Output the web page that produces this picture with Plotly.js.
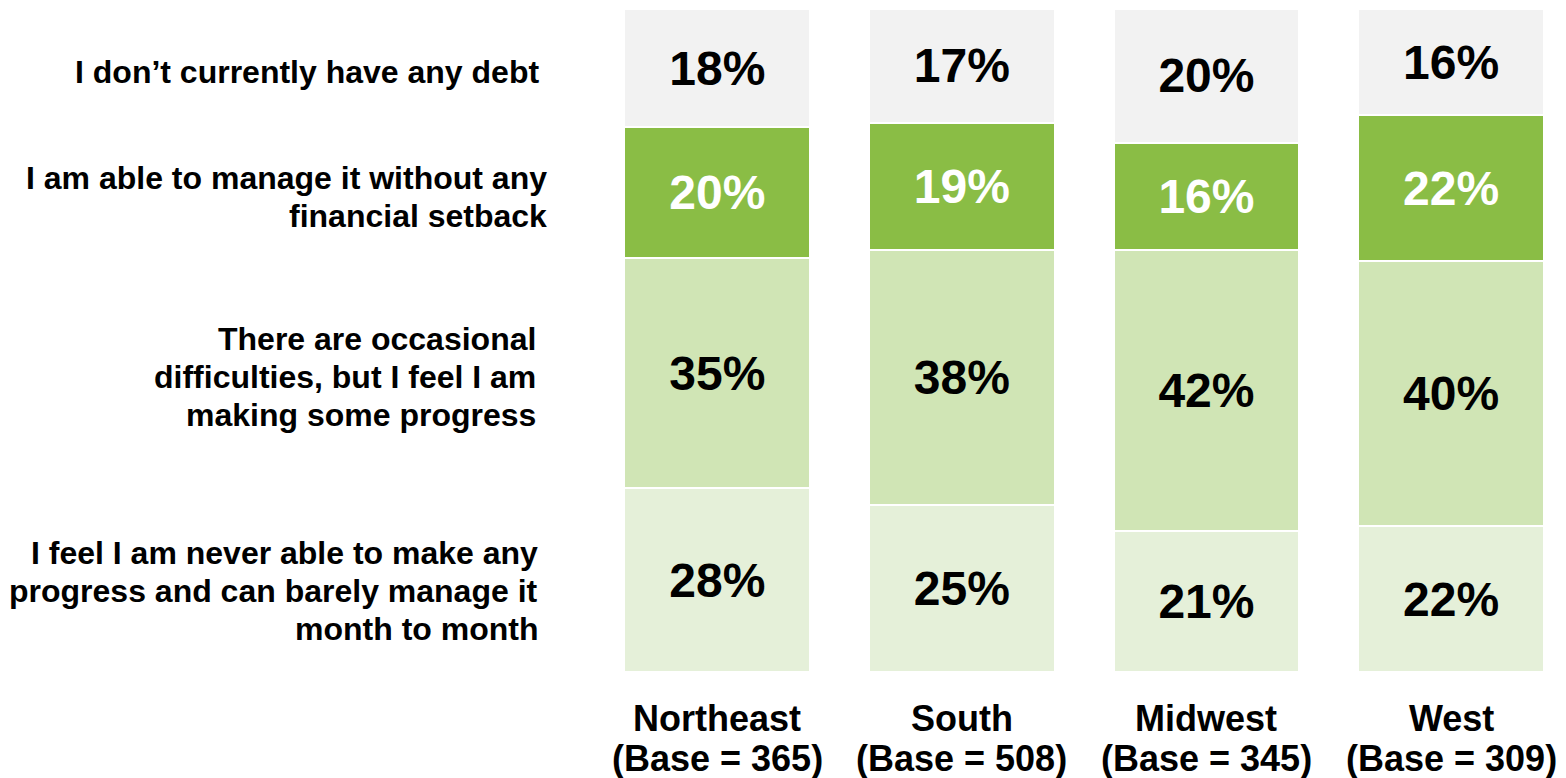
<!DOCTYPE html>
<html>
<head>
<meta charset="utf-8">
<script src="https://cdn.plot.ly/plotly-3.0.1.min.js"></script>
<style>html,body{margin:0;padding:0;background:#fff;}#chart{width:1566px;height:778px;}</style>
</head>
<body>
<div id="chart"></div>
<script>
const regions = ["Northeast", "South", "Midwest", "West"];
const bases = [365, 508, 345, 309];
const seriesLines = [
  ["I feel I am never able to make any", "progress and can barely manage it", "month to month"],
  ["There are occasional", "difficulties, but I feel I am", "making some progress"],
  ["I am able to manage it without any", "financial setback"],
  ["I don’t currently have any debt"]
];
const neverAble = [28, 25, 21, 22];
const occasional = [35, 38, 42, 40];
const manageable = [20, 19, 16, 22];
const noDebt = [18, 17, 20, 16];
const seriesValues = [neverAble, occasional, manageable, noDebt];
const colors = ["#e5f0d9", "#d0e5b5", "#8abd45", "#f2f2f2"];
const textColors = ["#000000", "#000000", "#ffffff", "#000000"];

const FONT = "Liberation Sans, Arial, Helvetica, sans-serif";
// label layout offsets (pixels)
const labelXShift = [-55, -57, -46, -54];
const labelYShift = [-11, -4, -4, -4];

const traces = seriesValues.map((vals, k) => ({
  type: "bar",
  name: seriesLines[k].join(" "),
  x: regions,
  y: vals,
  text: vals.map(v => "<b>" + v + "%</b>"),
  texttemplate: "%{text}",
  textposition: "inside",
  insidetextanchor: "middle",
  constraintext: "none",
  textfont: {family: FONT, size: 48, color: textColors[k]},
  marker: {color: colors[k], line: {color: "#ffffff", width: 2}},
  hoverinfo: "skip"
}));

const annotations = [];
// left labels aligned with Northeast segment midpoints (normalized)
const neTotal = seriesValues.reduce((s, a) => s + a[0], 0);
let cum = 0;
const LS = 38;
seriesValues.forEach((vals, k) => {
  const mid = (cum + vals[0] / 2) / neTotal * 100;
  cum += vals[0];
  const lines = seriesLines[k];
  const n = lines.length;
  lines.forEach((ln, i) => {
    annotations.push({
      xref: "paper", yref: "y", x: 0, y: mid,
      xanchor: "right", yanchor: "middle", align: "right",
      xshift: labelXShift[k], yshift: labelYShift[k] - (i - (n - 1) / 2) * LS,
      showarrow: false,
      text: "<b>" + ln + "</b>",
      font: {family: FONT, size: 32, color: "#000"}
    });
  });
});

// category labels (two lines each)
regions.forEach((r, i) => {
  [r, "(Base = " + bases[i] + ")"].forEach((ln, j) => {
    annotations.push({
      xref: "x", yref: "paper", x: r, y: 0,
      xanchor: "center", yanchor: "middle",
      yshift: -46 - j * 40,
      showarrow: false,
      text: "<b>" + ln + "</b>",
      font: {family: FONT, size: 36, color: "#000"}
    });
  });
});

const layout = {
  width: 1566, height: 778,
  margin: {l: 595, r: 0, t: 9, b: 106},
  barmode: "stack",
  barnorm: "percent",
  bargap: 0.24,
  showlegend: false,
  paper_bgcolor: "#ffffff",
  plot_bgcolor: "#ffffff",
  xaxis: {
    type: "category",
    range: [-0.5, 3.47],
    showticklabels: false,
    showgrid: false, zeroline: false, showline: false, ticks: "",
    fixedrange: true
  },
  yaxis: {
    range: [0, 100], visible: false, showgrid: false, zeroline: false, fixedrange: true
  },
  annotations: annotations,
  font: {family: FONT}
};

Plotly.newPlot("chart", traces, layout, {displayModeBar: false, staticPlot: true});
</script>
</body>
</html>
